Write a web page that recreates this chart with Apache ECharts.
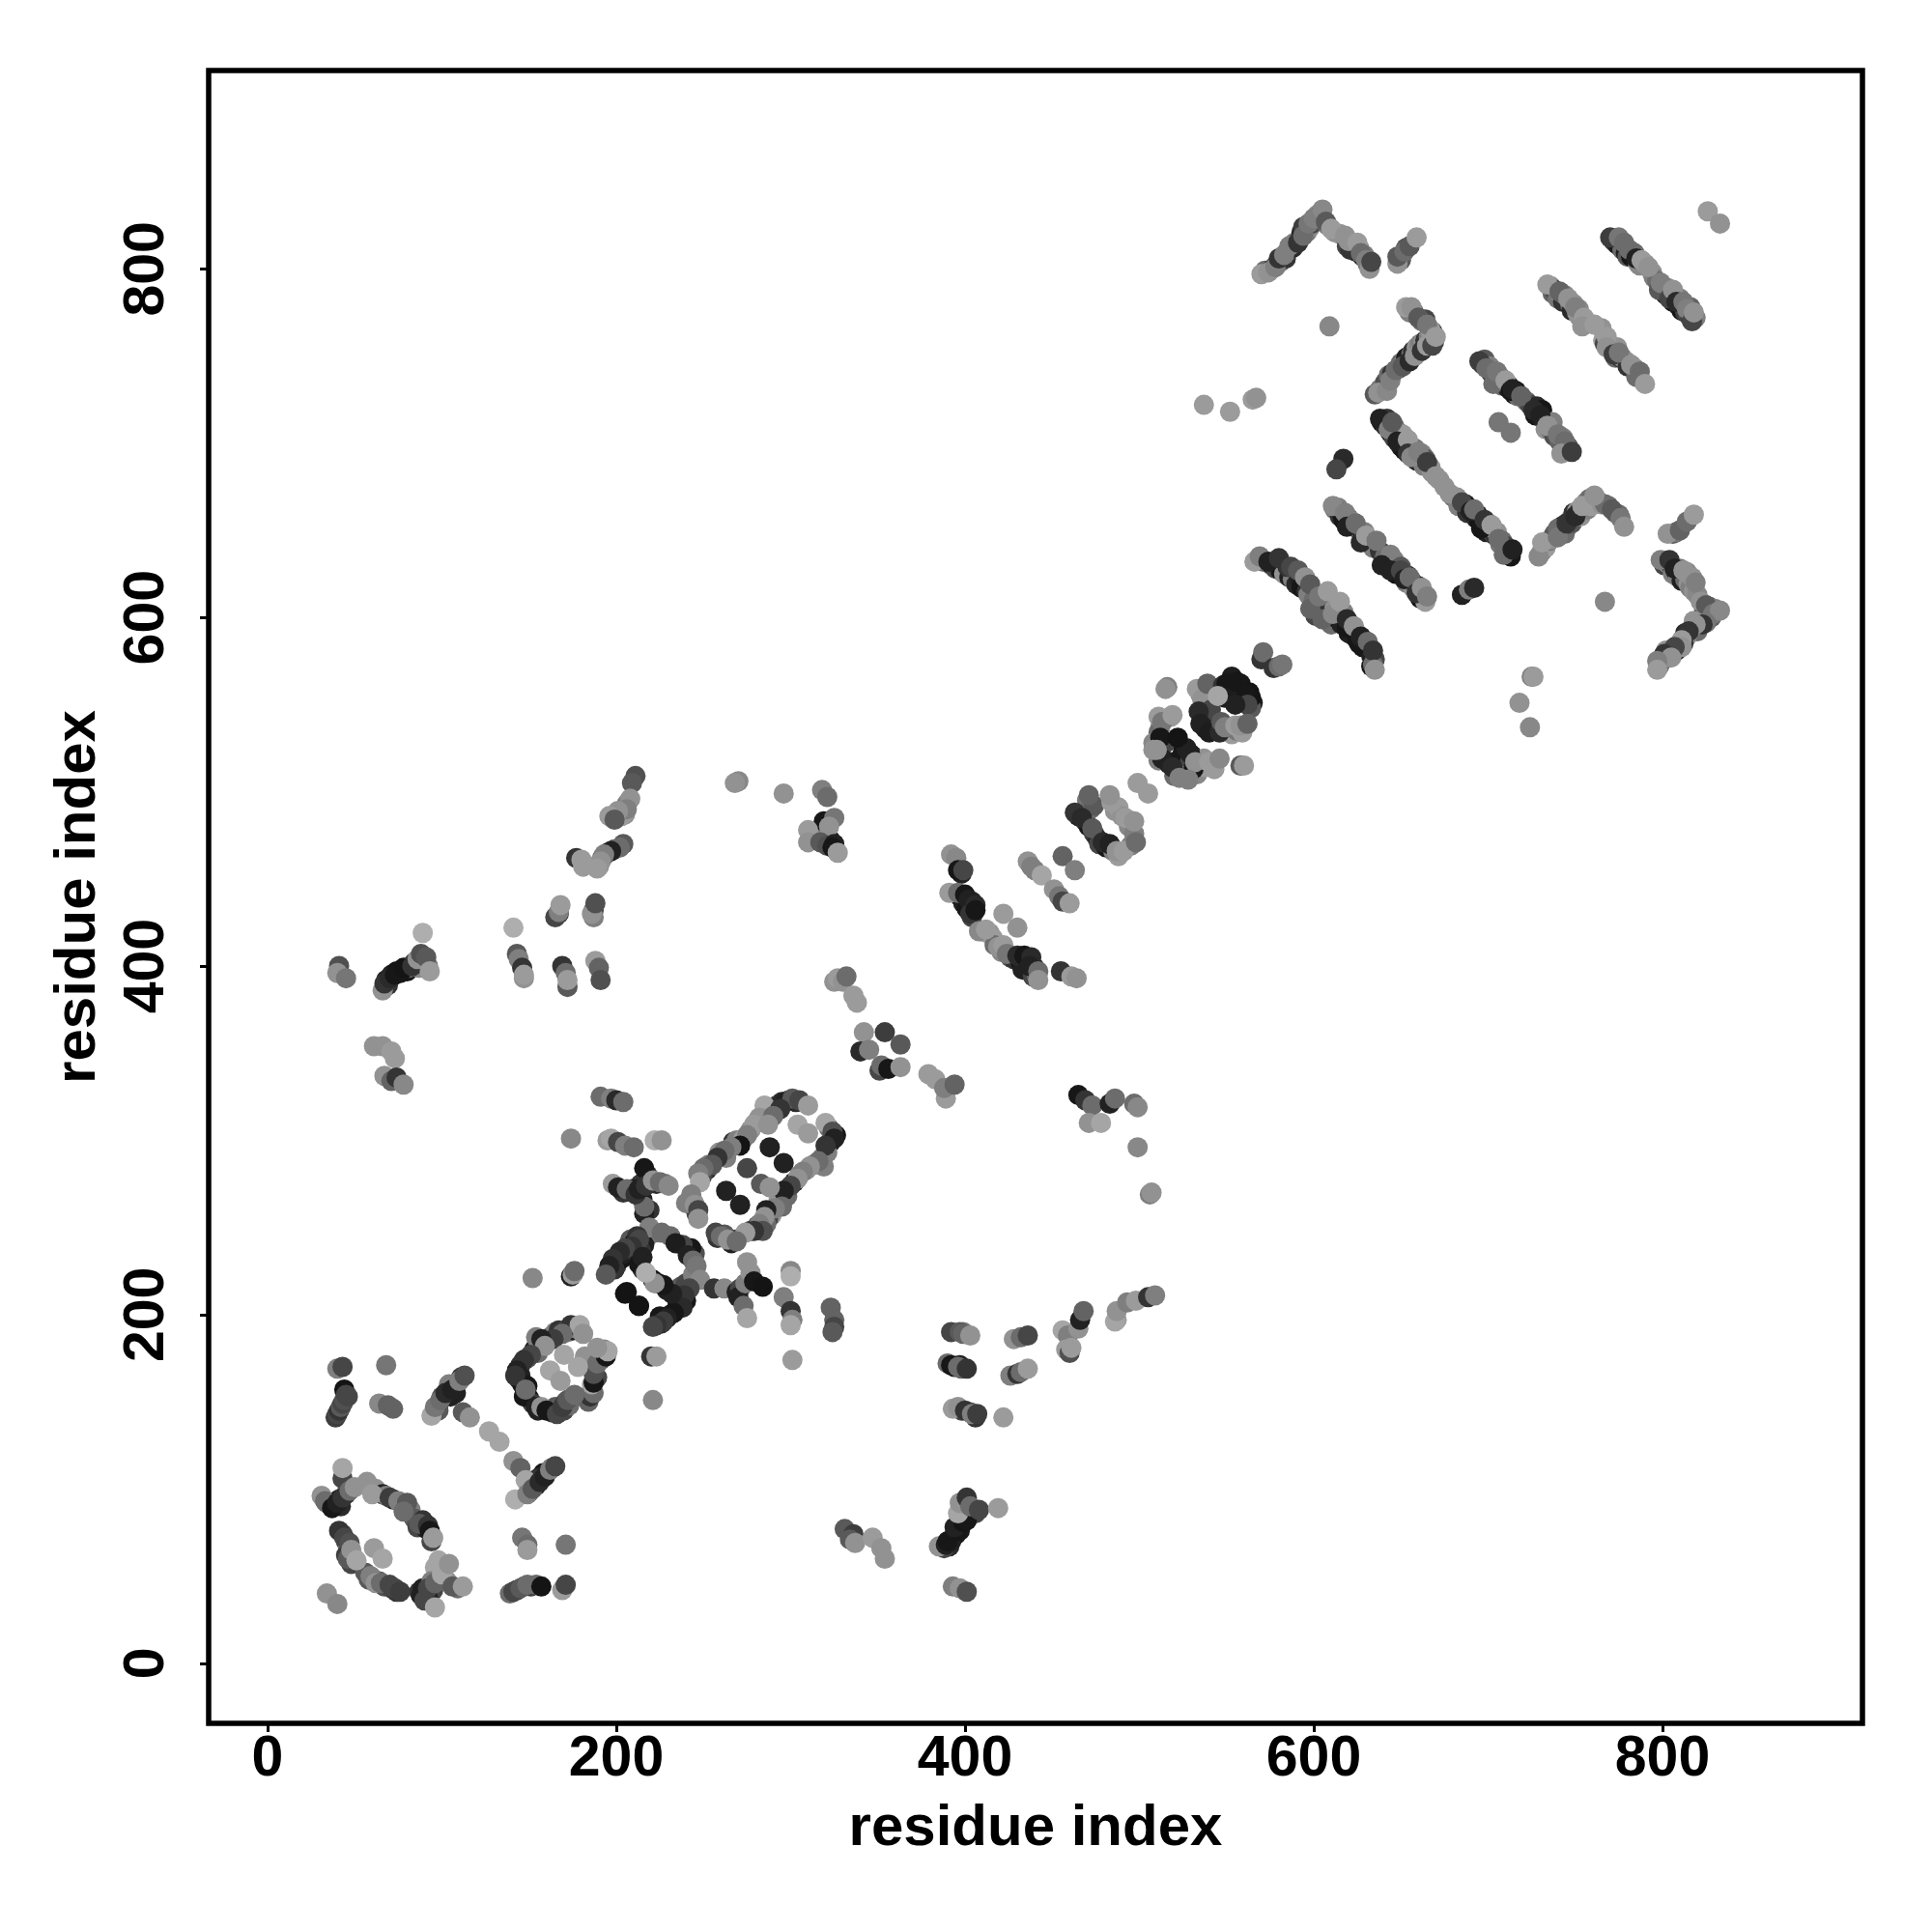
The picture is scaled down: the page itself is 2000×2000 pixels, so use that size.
<!DOCTYPE html>
<html><head><meta charset="utf-8">
<style>html,body{margin:0;padding:0;background:#fff}#c{width:2000px;height:2000px}</style>
<script src="https://cdn.jsdelivr.net/npm/echarts@6/dist/echarts.min.js"></script>
</head><body><div id="c"></div>
<script>
// each point: [residue i, residue j, shade score 0 (dark) .. 1 (light)]
const tickValues = [0, 200, 400, 600, 800];
const axisTitle = 'residue index';
const lowerLeftRing = [[31,96,.7],[33,93,.5],[37,89,.05],[40,92,.1],[43,95,.2],[43,106,.3],[43,112,.8],[47,99,.5],[50,101,.7],[57,104,.7],[60,97,.75],[70,95,.25],[75,93,.6],[80,92,.4],[78,87,.5],[87,80,.4],[92,79,.2],[93,76,.05],[94,70,.3],[95,72,.75],[41,76,.2],[44,72,.3],[47,69,.35],[46,60,.4],[48,65,.7],[51,59,.8],[61,66,.75],[66,60,.8],[59,50,.6],[62,46,.7],[65,46,.5],[70,45,.3],[73,43,.3],[76,41,.25],[34,40,.7],[40,34,.65],[88,39,.1],[90,36,.3],[92,43,.3],[96,46,.45],[100,51,.8],[98,59,.8],[104,57,.7],[96,32,.8],[106,44,.4],[112,44,.75],[146,72,.55],[149,68,.5],[149,65,.75],[171,68,.55],[141,41,.3],[145,43,.4],[149,45,.5],[154,45,.5],[157,44,.03],[169,42,.75],[171,45,.3]];
const leftColumn = [[40,169,.6],[43,170,.3],[68,171,.55],[44,157,.03],[39,141,.25],[40,143,.3],[41,145,.2],[42,147,.4],[43,149,.3],[44,151,.35],[45,154,.3],[46,153,.3],[64,149,.65],[69,148,.45],[72,146,.45],[94,142,.8],[96,147,.55],[99,151,.5],[102,155,.15],[106,157,.1],[110,162,.6],[113,165,.35],[112,144,.4],[116,141,.7],[127,133,.8],[133,127,.8],[141,116,.7],[145,112,.45],[148,105,.8],[142,94,.9],[149,97,.6],[152,100,.4],[156,104,.15],[159,107,.1],[162,111,.6],[165,113,.3]];
const ringOne = [[174,194,.2],[179,194,.8],[181,189,.7],[169,189,.5],[164,186,.25],[154,187,.6],[157,186,.1],[159,182,.7],[151,177,.3],[147,174,.2],[143,168,.1],[142,165,.2],[147,153,.05],[148,157,.5],[154,147,.1],[157,147,.7],[160,145,.05],[166,143,.3],[169,147,.25],[172,151,.4],[176,154,.5],[187,155,.5],[186,160,.8],[187,161,.05],[187,166,.35],[189,172,.5],[194,176,.05],[195,179,.8],[189,181,.7],[170,177,.8],[162,168,.8],[178,170,.8],[168,162,.75],[152,221,.65],[174,222,.1],[175,223,.75],[176,225,.5],[206,213,.03],[213,205,.03],[221,151,.65],[220,176,.2],[223,176,.75]];
const crossCluster = [[191,325,.5],[197,324,.6],[200,323,.15],[204,322,.5],[174,301,.65],[195,300,.75],[197,301,.8],[201,299,.3],[205,297,.6],[210,296,.5],[222,300,.85],[226,300,.7],[216,284,.05],[198,275,.75],[201,273,.1],[206,272,.5],[216,258,.1],[216,262,.5],[211,269,.2],[213,272,.1],[217,274,.2],[221,277,.7],[225,276,.5],[230,274,.65],[219,250,.6],[212,245,.2],[213,243,.3],[209,239,.2],[205,238,.3],[202,236,.15],[198,232,.2],[196,228,.1],[194,223,.4],[226,247,.5],[231,245,.5],[234,241,.08],[241,234,.1],[244,231,.5],[246,228,.55],[248,220,.65],[242,215,.3],[239,211,.2],[238,204,.15],[233,201,.05],[229,198,.1],[227,196,.25],[223,194,.2],[221,193,.3],[232,212,.1],[227,217,.05],[222,218,.7],[213,229,.05],[215,233,.1],[217,224,.85],[205,212,.03],[213,205,.03],[256,215,.2],[262,215,.65],[269,213,.1],[271,215,.3],[270,210,.1],[274,218,.6],[277,224,.7],[275,230,.7],[279,219,.05],[284,216,.03],[273,205,.5],[275,198,.8],[300,225,.65],[300,222,.85],[296,210,.6],[300,202,.2],[301,197,.6],[300,194,.8],[301,174,.75],[323,204,.45],[325,197,.45],[325,193,.3],[324,190,.4]];
const ringTwo = [[285,320,.8],[282,313,.7],[279,309,.75],[297,322,.1],[301,324,.4],[305,323,.3],[310,320,.75],[294,318,.2],[290,314,.5],[287,309,.7],[275,303,.6],[271,297,.03],[266,296,.6],[262,294,.5],[258,290,.2],[255,286,.4],[250,284,.5],[247,281,.6],[248,276,.8],[320,310,.8],[304,309,.8],[310,304,.75],[324,305,.35],[325,301,.1],[320,297,.2],[319,285,.6],[316,288,.5],[311,285,.7],[307,282,.6],[304,278,.7],[300,274,.3],[296,271,.1],[295,262,.5],[291,261,.6],[286,260,.1],[285,256,.7],[282,252,.6],[284,248,.35],[279,248,.2],[274,247,.75],[243,269,.6],[245,263,.7],[247,260,.3],[247,255,.7],[257,247,.3],[260,245,.5],[264,243,.7],[269,242,.5],[288,296,.1],[296,287,.1],[275,284,.3],[283,275,.4],[288,273,.7],[263,271,.1],[271,263,.1]];
const upperLeftBranch = [[211,509,.35],[209,505,.4],[208,496,.7],[206,490,.6],[201,489,.7],[196,486,.75],[199,484,.4],[202,468,.5],[197,466,.1],[193,464,.6],[191,460,.7],[189,456,.75],[177,462,.2],[180,461,.75],[181,457,.75],[165,428,.3],[167,431,.6],[168,435,.75],[187,428,.6],[186,430,.7],[188,436,.35],[141,422,.85],[143,407,.4],[144,404,.6],[146,399,.2],[147,393,.7],[147,395,.75],[169,400,.2],[172,388,.4],[171,396,.5],[172,392,.75],[188,403,.75],[190,399,.45],[191,392,.35],[89,419,.85],[66,386,.7],[67,390,.2],[70,393,.15],[73,395,.05],[76,396,.05],[78,399,.03],[83,400,.2],[86,404,.7],[88,407,.35],[91,405,.4],[93,397,.75],[41,400,.35],[40,396,.7],[45,393,.55],[61,354,.7],[66,354,.7],[71,351,.75],[73,347,.75],[67,337,.7],[71,334,.45],[74,336,.2],[78,332,.65]];
const middleDiagonal = [[270,506,.65],[268,505,.7],[296,499,.7],[318,501,.6],[321,497,.5],[319,483,.05],[325,485,.55],[322,480,.7],[310,478,.75],[310,471,.7],[317,471,.4],[321,469,.35],[325,470,.1],[324,468,.05],[327,465,.75],[392,464,.7],[395,462,.65],[396,455,.05],[399,455,.3],[391,442,.75],[396,442,.5],[400,441,.05],[402,438,.1],[403,430,.2],[406,435,.15],[406,432,.05],[408,420,.65],[412,421,.75],[419,411,.7],[422,412,.75],[424,407,.55],[430,406,.15],[434,406,.05],[438,405,.15],[437,400,.1],[442,397,.5],[442,392,.7],[422,430,.75],[430,422,.7],[455,397,.2],[461,394,.75],[464,393,.7],[436,460,.7],[438,457,.6],[440,455,.6],[444,452,.8],[456,463,.45],[463,455,.6],[451,444,.7],[454,440,.55],[456,437,.3],[460,436,.75],[471,498,.45],[484,494,.75],[483,498,.7],[463,488,.2],[467,485,.15],[473,479,.4],[479,471,.15],[483,470,.1],[487,466,.7],[491,466,.75],[498,471,.5],[492,485,.75],[497,483,.7],[499,505,.75],[505,499,.75]];
const lowerMiddle = [[325,391,.7],[327,393,.75],[330,391,.7],[332,394,.5],[336,383,.75],[338,379,.75],[342,362,.7],[354,362,.25],[363,355,.4],[340,351,.15],[345,352,.6],[351,340,.3],[352,343,.5],[356,341,.05],[363,342,.7],[379,338,.75],[383,335,.75],[389,324,.75],[388,330,.6],[394,332,.45],[465,326,.05],[469,323,.2],[473,320,.5],[483,321,.1],[486,324,.5],[497,321,.5],[499,319,.65],[471,310,.7],[478,310,.8],[499,296,.65],[506,269,.6],[507,270,.7]];
const lowerRightArc = [[392,190,.3],[397,190,.4],[399,189,.45],[403,188,.7],[390,172,.5],[392,171,.05],[396,170,.5],[401,169,.2],[393,146,.75],[396,147,.7],[400,145,.2],[404,143,.6],[407,143,.25],[422,141,.75],[428,186,.7],[432,187,.5],[436,188,.3],[426,165,.6],[430,166,.2],[432,167,.5],[436,169,.75],[456,191,.8],[459,188,.6],[458,180,.75],[460,178,.35],[461,181,.75],[465,192,.7],[466,197,.1],[468,202,.45],[487,197,.75],[486,196,.8],[487,202,.7],[493,207,.6],[498,208,.75],[505,210,.2],[509,211,.6],[385,67,.7],[389,68,.1],[392,70,.1],[390,70,.05],[397,76,.05],[394,78,.1],[399,81,.03],[401,82,.05],[396,86,.8],[397,92,.7],[401,95,.2],[403,90,.5],[408,88,.3],[419,89,.75],[393,44,.6],[397,43,.7],[401,41,.35],[331,77,.4],[336,74,.25],[334,71,.4],[337,69,.7],[347,72,.75],[352,66,.7],[354,60,.7]];
const centreKnot = [[516,560,.6],[515,559,.7],[533,559,.75],[536,553,.7],[539,562,.45],[548,561,.2],[553,566,.08],[550,562,.05],[556,563,.05],[564,554,.03],[561,556,.05],[562,550,.3],[549,554,.08],[555,550,.1],[541,547,.3],[545,555,.8],[534,546,.15],[535,539,.1],[540,534,.08],[546,534,.15],[547,540,.4],[549,537,.6],[555,538,.75],[559,534,.75],[558,538,.7],[562,539,.45],[570,576,.2],[571,580,.5],[577,571,.2],[580,572,.5],[582,573,.55],[508,528,.65],[511,543,.75],[513,540,.55],[519,544,.75],[512,531,.05],[522,531,.03],[513,519,.1],[519,514,.15],[508,524,.7],[510,524,.7],[529,522,.1],[531,513,.05],[532,517,.7],[523,508,.6],[528,507,.6],[540,517,.75],[543,513,.75],[546,519,.65],[558,515,.4],[560,515,.75],[725,566,.6],[726,566,.75],[718,551,.7],[724,537,.65],[537,722,.75],[552,718,.75]];
const topBandOne = [[570,797,.75],[574,798,.7],[578,801,.6],[580,806,.2],[583,808,.6],[586,813,.6],[591,815,.2],[594,824,.25],[594,819,.5],[597,826,.55],[600,829,.6],[605,834,.65],[607,827,.4],[610,823,.75],[618,819,.7],[621,811,.2],[620,816,.7],[625,815,.75],[627,809,.5],[630,805,.6],[632,800,.7],[633,804,.3],[648,803,.7],[648,807,.4],[652,810,.5],[655,813,.4],[659,818,.75],[826,833,.75],[833,826,.7],[609,767,.65],[653,778,.75],[656,778,.7],[660,772,.4],[665,768,.55],[635,728,.4],[637,729,.7],[642,730,.65],[644,736,.6],[647,742,.5],[651,744,.4],[655,747,.15],[658,750,.7],[662,753,.2],[665,756,.75],[668,756,.3],[670,761,.75],[565,725,.75],[567,726,.7]];
const topBandTwo = [[695,747,.25],[699,743,.5],[703,734,.5],[705,741,.55],[710,736,.75],[713,730,.05],[714,731,.1],[719,727,.45],[726,719,.15],[730,716,.1],[734,710,.7],[740,705,.55],[744,701,.5],[742,694,.7],[748,695,.25],[706,712,.55],[713,706,.55],[734,791,.75],[741,787,.45],[746,783,.7],[750,778,.6],[755,772,.75],[754,767,.7],[761,768,.75],[768,761,.75],[768,755,.7],[772,751,.25],[775,752,.55],[782,745,.7],[787,741,.5],[790,734,.75],[770,818,.25],[775,818,.55],[778,815,.5],[781,811,.5],[785,806,.1],[788,805,.75],[792,801,.7],[798,788,.4],[799,792,.6],[804,783,.3],[806,788,.7],[808,781,.15],[812,781,.55],[814,777,.6],[817,770,.3],[818,775,.7]];
const midBand = [[638,714,.1],[643,708,.6],[645,712,.4],[648,701,.1],[654,702,.75],[654,694,.2],[656,692,.65],[660,695,.6],[665,689,.25],[670,681,.7],[678,671,.7],[685,666,.3],[690,661,.1],[692,662,.5],[696,651,.05],[698,656,.2],[702,653,.75],[706,645,.5],[709,636,.5],[714,639,.1],[617,691,.15],[613,685,.3],[729,635,.65],[731,643,.75],[740,651,.5],[740,646,.55],[745,654,.2],[750,658,.15],[754,664,.75],[761,670,.7],[771,662,.4],[776,657,.55],[778,652,.7],[803,648,.7],[810,650,.45],[814,655,.5],[818,659,.75],[611,664,.65],[618,660,.6],[619,652,.1],[624,654,.5],[627,643,.15],[630,647,.75],[636,644,.55],[644,636,.6],[650,629,.4]];
const lowerBands = [[566,632,.75],[569,635,.6],[574,632,.1],[580,634,.2],[585,629,.2],[587,629,.3],[591,627,.4],[595,623,.7],[598,619,.4],[598,605,.45],[603,612,.55],[605,599,.45],[608,615,.75],[611,602,.65],[615,609,.75],[619,594,.05],[619,599,.15],[623,595,.7],[626,585,.05],[627,589,.1],[631,586,.5],[634,581,.2],[635,570,.7],[639,630,.1],[644,627,.1],[650,627,.3],[652,622,.1],[655,623,.5],[659,614,.2],[662,617,.7],[665,612,.6],[685,613,.1],[689,616,.6],[692,617,.15],[767,609,.65],[799,633,.6],[804,633,.2],[807,628,.1],[812,627,.7],[817,623,.7],[819,620,.6],[822,609,.7],[825,607,.4],[829,602,.55],[833,604,.65],[825,597,.55],[818,598,.7],[823,596,.2],[819,596,.7],[815,592,.2],[811,587,.75],[811,583,.7],[807,583,.3],[801,579,.2],[805,577,.7],[797,575,.6],[797,570,.75]];
// marks that lie partly hidden beneath the ones above
const hiddenTop = [[572,799,.5],[576,800,.3],[579,803,.1],[581,804,.55],[584,806,.2],[585,810,.35],[588,812,.15],[589,815,.6],[592,817,.45],[593,821,.1],[596,821,.6],[598,824,.65],[599,826,.3],[602,831,.7],[604,832,.4],[608,825,.55],[612,821,.7],[615,820,.7],[619,813,.3],[622,813,.05],[624,810,.2],[626,812,.7],[628,807,.15],[629,808,.6],[631,803,.3],[650,805,.4],[653,812,.35],[638,731,.5],[640,733,.6],[641,735,.35],[643,739,.5],[645,740,.2],[649,743,.1],[650,746,.5],[652,746,.7],[653,749,.1],[656,751,.5],[657,753,.2],[659,755,.7],[660,752,.15],[661,757,.6],[663,758,.7],[664,759,.2],[666,761,.6],[667,763,.65],[668,764,.2],[669,758,.3],[662,770,.5],[657,776,.6],[655,775,.6],[664,771,.3],[667,765,.75]];
const hiddenBandTwo = [[697,745,.3],[698,748,.4],[701,744,.6],[702,740,.2],[704,737,.55],[707,738,.6],[708,733,.5],[711,732,.1],[712,733,.2],[715,728,.03],[716,730,.05],[717,727,.5],[722,724,.5],[724,722,.3],[727,716,.05],[728,721,.15],[729,718,.05],[731,719,.05],[732,713,.15],[733,708,.7],[736,707,.55],[737,712,.6],[738,704,.35],[741,701,.45],[743,703,.6],[745,697,.55],[746,698,.4],[736,790,.7],[737,786,.45],[738,788,.3],[740,783,.55],[742,785,.7],[743,781,.2],[744,785,.65],[747,780,.5],[748,776,.15],[749,780,.7],[751,775,.65],[752,773,.7],[752,777,.65],[757,769,.7],[765,766,.7],[766,759,.75],[767,757,.3],[770,756,.3],[771,754,.6],[773,749,.5],[774,755,.7],[776,749,.15],[777,749,.6],[779,747,.7],[780,744,.2],[784,743,.6],[785,738,.5]];
const hiddenFarBand = [[772,816,.05],[773,815,.4],[774,814,.1],[776,813,.03],[777,811,.5],[779,809,.1],[780,807,.4],[782,807,.05],[784,809,.5],[786,803,.7],[787,802,.65],[790,803,.7],[794,798,.7],[795,795,.6],[797,793,.5],[800,789,.2],[801,787,.6],[802,785,.1],[803,789,.65],[805,786,.3],[806,781,.03],[807,783,.5],[809,779,.1],[810,783,.6],[811,776,.03],[813,775,.25],[815,774,.4],[816,772,.25],[816,778,.45],[819,772,.6]];
const hiddenMidBand = [[639,712,.03],[640,713,.3],[641,710,.15],[642,714,.2],[644,706,.1],[646,710,.55],[646,703,.3],[647,707,.35],[649,706,.5],[650,698,.1],[651,705,.75],[652,696,.03],[653,699,.1],[655,697,.7],[657,693,.05],[658,697,.55],[659,690,.1],[661,692,.05],[662,694,.65],[663,687,.6],[664,691,.4],[667,686,.7],[668,683,.7],[672,679,.7],[675,675,.7],[680,669,.5],[682,669,.7],[683,664,.6],[687,665,.1],[688,660,.2],[689,663,.03],[693,657,.15],[694,659,.05],[695,655,.03],[697,652,.3],[699,649,.1],[700,654,.7],[701,650,.03],[703,648,.35],[704,647,.2],[705,649,.7],[707,642,.55],[708,644,.5],[710,641,.3],[711,638,.2],[712,636,.1],[713,635,.05],[731,638,.5],[733,640,.75],[735,644,.55],[736,645,.7],[738,648,.4],[741,650,.3],[742,652,.05],[743,651,.7],[744,648,.5],[746,654,.05],[747,656,.75],[748,654,.4],[749,660,.2],[751,661,.7],[752,660,.03],[753,658,.7],[755,663,.3],[756,666,.7],[757,662,.6],[758,668,.5],[759,664,.75],[763,667,.8],[765,665,.7],[767,665,.5],[769,664,.5],[773,660,.4],[775,659,.5],[806,648,.4],[808,649,.55]];
const hiddenLowerBands = [[612,662,.55],[614,663,.6],[615,658,.2],[616,660,.05],[617,656,.05],[620,657,.4],[621,653,.05],[622,655,.7],[625,651,.1],[626,650,.5],[628,645,.1],[629,649,.6],[632,643,.5],[633,644,.1],[634,640,.6],[638,638,.2],[640,633,.3],[641,635,.5],[642,630,.05],[643,632,.5],[645,628,.1],[646,633,.6],[647,625,.03],[648,629,.45],[651,625,.5],[653,620,.6],[654,624,.1],[656,621,.05],[657,617,.7],[658,619,.6],[660,618,.2],[661,611,.03],[663,614,.5],[664,609,.75],[571,632,.5],[576,630,.1],[578,628,.3],[581,627,.05],[583,625,.7],[586,623,.1],[588,622,.6],[590,619,.15],[592,621,.1],[593,617,.05],[596,615,.2],[597,613,.6],[600,610,.5],[601,601,.3],[602,606,.5],[604,603,.2],[610,596,.5],[612,606,.7],[614,599,.05],[616,596,.1],[617,603,.6],[620,591,.08],[621,596,.7],[622,590,.1],[624,592,.5],[625,587,.05],[628,583,.05],[629,587,.6],[632,583,.25],[633,578,.1],[635,576,.3],[633,572,.05],[634,573,.5]];
const hiddenChevron = [[801,630,.3],[803,631,.65],[805,630,.05],[806,625,.6],[808,626,.05],[809,623,.6],[810,628,.55],[811,621,.1],[813,622,.5],[814,626,.65],[815,619,.7],[816,617,.6],[818,615,.7],[820,613,.65],[824,604,.3],[826,601,.6],[827,606,.4],[828,600,.4],[830,605,.6],[821,595,.05],[820,592,.5],[817,594,.6],[814,589,.65],[813,591,.15],[812,585,.2],[809,584,.7],[808,581,.1],[806,580,.75],[804,579,.5],[803,577,.2],[800,576,.1],[799,574,.3],[798,572,.55],[802,581,.7]];
const hiddenKnot = [[552,560,.08],[558,562,.05],[563,557,.03],[560,552,.1],[565,551,.08],[564,548,.4],[552,556,.1],[538,557,.7],[535,556,.65],[537,550,.65],[542,541,.1],[538,536,.08],[536,543,.15],[544,536,.2],[551,535,.7],[553,533,.75],[556,535,.55],[512,537,.7],[511,534,.5],[518,543,.75],[515,528,.3],[510,528,.55],[511,518,.6],[515,518,.2],[517,516,.1],[521,511,.5],[522,518,.05],[525,523,.05],[527,525,.1],[529,517,.3],[530,521,.05],[533,510,.65],[526,509,.6],[537,519,.7],[538,514,.75],[520,509,.5]];
const hiddenMiddle = [[398,453,.1],[397,440,.3],[398,439,.05],[399,436,.1],[404,437,.15],[401,433,.05],[404,428,.3],[410,420,.3],[414,419,.7],[416,416,.75],[417,412,.5],[421,408,.65],[426,405,.4],[428,404,.2],[432,402,.05],[433,398,.1],[436,403,.03],[440,399,.1],[439,394,.3],[441,395,.5],[465,486,.1],[469,483,.2],[471,480,.05],[474,476,.25],[476,473,.15],[477,470,.3],[481,468,.05],[485,466,.6],[470,495,.55],[472,490,.5],[474,492,.4],[486,489,.7],[488,491,.75],[490,486,.7],[494,480,.65],[497,476,.6],[495,469,.6],[488,463,.75],[322,473,.1],[323,472,.05],[319,475,.4],[315,474,.6],[68,392,.1],[69,389,.2],[71,395,.1],[74,397,.03],[80,397,.05],[81,399,.4],[84,402,.3],[87,399,.65],[89,403,.5],[90,401,.7],[92,400,.6]];
const hiddenRingOne = [[145,171,.2],[145,165,.1],[149,175,.4],[153,180,.1],[155,182,.2],[155,178,.5],[156,183,.75],[160,184,.3],[162,187,.4],[165,190,.6],[167,191,.2],[171,191,.3],[172,190,.7],[175,191,.1],[177,192,.6],[144,163,.1],[146,160,.05],[149,159,.05],[150,152,.05],[152,149,.25],[155,145,.1],[163,144,.2],[165,147,.4],[167,146,.45],[170,145,.3],[171,150,.3],[174,152,.2],[173,148,.5],[184,150,.45],[185,153,.2],[186,157,.3],[189,164,.3],[188,170,.45],[190,176,.3],[192,178,.2],[191,174,.35],[193,180,.65],[182,176,.7]];
const hiddenCross = [[200,228,.3],[203,232,.05],[204,235,.1],[207,240,.2],[208,243,.4],[210,241,.05],[211,236,.15],[199,226,.2],[218,245,.3],[222,247,.55],[216,240,.1],[214,237,.2],[215,226,.2],[221,220,.05],[224,218,.05],[229,214,.1],[235,205,.1],[237,208,.1],[234,214,.15],[237,216,.4],[240,218,.3],[244,223,.6],[245,235,.35],[243,238,.05],[238,240,.3],[236,204,.05],[231,200,.1],[226,195,.15],[225,199,.05],[240,208,.05],[218,280,.2],[214,275,.2],[209,272,.1],[204,270,.2],[215,266,.1],[219,260,.2],[223,275,.15],[228,275,.55]];
const hiddenRingTwo = [[267,299,.2],[269,300,.6],[273,301,.75],[277,306,.7],[280,310,.6],[283,311,.8],[288,316,.2],[291,318,.65],[292,320,.25],[295,322,.15],[299,323,.25],[303,322,.15],[252,283,.2],[253,286,.6],[259,293,.7],[260,291,.15],[263,290,.6],[249,279,.3],[322,307,.5],[326,303,.05],[323,299,.1],[321,293,.6],[318,290,.6],[313,286,.65],[309,283,.7],[305,280,.65],[302,276,.1],[298,272,.15],[298,268,.5],[293,265,.7],[289,257,.7],[287,255,.3],[283,250,.4],[286,252,.5],[244,265,.7],[246,258,.3],[258,244,.2],[262,246,.4],[266,241,.1],[268,243,.3],[277,248,.3],[281,251,.15],[240,264,.6]];
const hiddenLowerLeft = [[34,92,.4],[36,91,.2],[38,91,.1],[41,94,.05],[42,90,.15],[45,97,.3],[46,101,.6],[62,100,.7],[66,97,.1],[68,96,.6],[72,94,.05],[78,90,.3],[82,88,.6],[84,83,.4],[86,78,.3],[89,82,.2],[91,77,.1],[43,74,.3],[45,70,.2],[46,67,.5],[45,62,.25],[49,61,.3],[48,57,.3],[56,52,.4],[58,48,.4],[60,49,.6],[64,47,.4],[67,44,.35],[71,43,.3],[74,41,.2],[87,41,.2],[89,43,.1],[91,40,.2],[93,38,.4],[95,42,.3],[92,37,.1],[98,50,.6],[96,55,.8],[103,47,.7],[94,47,.6],[109,43,.5],[147,44,.5],[143,42,.15],[151,44,.25],[139,40,.5],[398,82,.05],[395,74,.1],[393,72,.03],[391,67,.15],[388,66,.3],[400,84,.1],[403,85,.25],[399,91,.6],[405,88,.25],[406,86,.3],[107,159,.15],[104,160,.6],[111,164,.2],[108,155,.1],[105,153,.1],[98,148,.2],[100,153,.3],[98,145,.4],[154,102,.1],[158,109,.05],[160,109,.1],[163,112,.35],[155,106,.2],[150,98,.3],[206,493,.6],[205,487,.7],[203,486,.75],[195,465,.55],[199,467,.4],[192,462,.15],[190,457,.7],[204,470,.4],[167,430,.2],[187,432,.3],[397,171,.1],[398,169,.45],[394,170,.05],[406,141,.2],[403,144,.4],[398,145,.3],[399,190,.6]];

const points = [].concat(hiddenTop, hiddenBandTwo, hiddenFarBand, hiddenMidBand, hiddenLowerBands, hiddenChevron, hiddenKnot, hiddenMiddle, hiddenRingOne, hiddenCross, hiddenRingTwo, hiddenLowerLeft, lowerLeftRing, leftColumn, ringOne, crossCluster, ringTwo, upperLeftBranch, middleDiagonal, lowerMiddle, lowerRightArc, centreKnot, topBandOne, topBandTwo, midBand, lowerBands);

const font = '"Liberation Sans", Arimo, Helvetica, Arial, sans-serif';
const axisBase = {
  type: 'value', nameLocation: 'middle', nameMoveOverlap: false,
  nameTextStyle: { fontFamily: font, fontWeight: 'bold', fontSize: 60, color: '#000' },
  axisLine: { show: false, onZero: false }, splitLine: { show: false },
  axisTick: { show: true, length: 9, lineStyle: { color: '#000', width: 3 }, customValues: tickValues },
};
const labelBase = { show: true, fontFamily: font, fontWeight: 'bold', fontSize: 59, color: '#000', customValues: tickValues, showMinLabel: true, showMaxLabel: true };
const chart = echarts.init(document.getElementById('c'), null, { renderer: 'canvas', width: 2000, height: 2000 });
chart.setOption({
  animation: false, backgroundColor: '#fff',
  grid: { left: 216, right: 72, top: 73, bottom: 216, show: true, borderColor: '#000', borderWidth: 5.5, backgroundColor: 'transparent' },
  xAxis: Object.assign({}, axisBase, { min: -33.8, max: 914.7, name: axisTitle, nameGap: 79, axisLabel: Object.assign({}, labelBase, { margin: 8 }) }),
  yAxis: Object.assign({}, axisBase, { min: -34.5, max: 913.8, name: axisTitle, nameGap: 105, axisLabel: Object.assign({}, labelBase, { rotate: 90, margin: 63, verticalAlign: 'middle', align: 'center' }) }),
  visualMap: { show: false, type: 'continuous', dimension: 2, min: 0, max: 0.85, inRange: { color: ['#0e0e0e', '#aeaeae'] } },
  series: [{ type: 'scatter', data: points, symbol: 'circle', symbolSize: 21, clip: false, itemStyle: { opacity: 1 } }]
});
</script></body></html>
